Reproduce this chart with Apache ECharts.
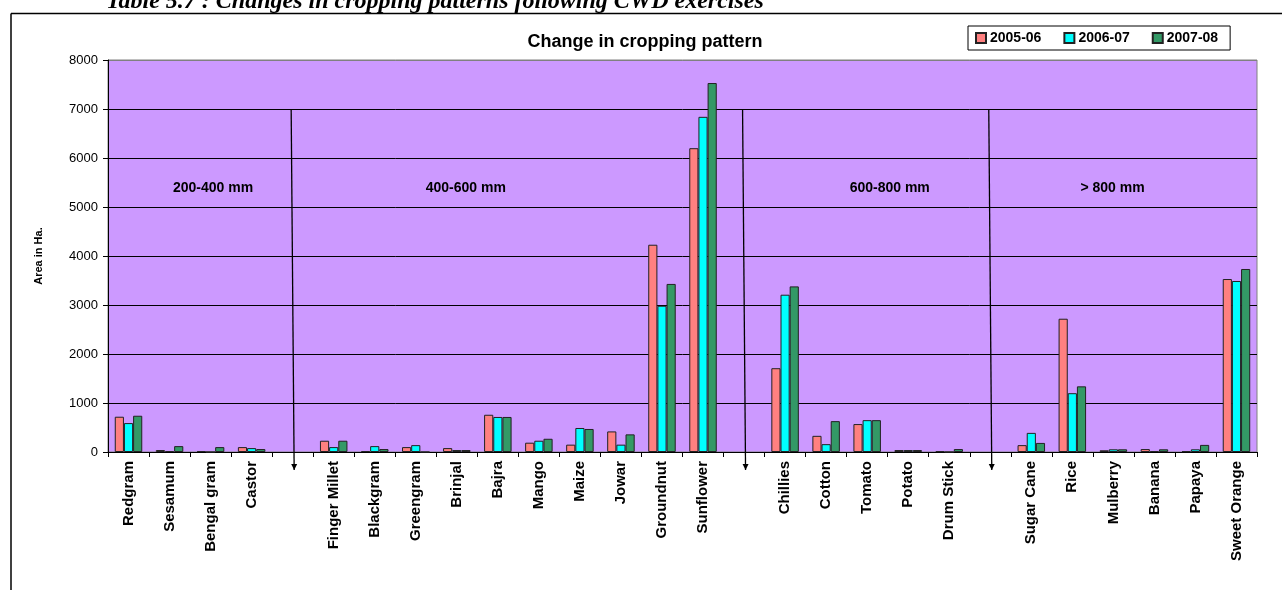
<!DOCTYPE html>
<html>
<head>
<meta charset="utf-8">
<style>
html,body{margin:0;padding:0;background:#fff;}
#chart{width:1282px;height:590px;}
</style>
<script src="https://cdn.jsdelivr.net/npm/echarts@6/dist/echarts.min.js"></script>
</head>
<body>
<div id="chart"></div>
<script>
const categories = ['Redgram','Sesamum','Bengal gram','Castor',' ','Finger Millet','Blackgram','Greengram','Brinjal','Bajra','Mango','Maize','Jowar','Groundnut','Sunflower','  ','Chillies','Cotton','Tomato','Potato','Drum Stick','   ','Sugar Cane','Rice','Mulberry','Banana','Papaya','Sweet Orange'];
const seriesNames = ['2005-06','2006-07','2007-08'];
const v2005 = [720,40,20,100,null,230,20,100,80,760,190,150,420,4230,6200,null,1710,330,570,40,15,null,140,2720,35,60,15,3530];
const v2006 = [590,20,0,80,null,100,120,140,40,715,230,490,150,2985,6840,null,3210,160,650,40,0,null,390,1200,55,20,55,3490];
const v2007 = [740,120,100,60,null,230,60,0,40,715,270,470,360,3430,7530,null,3380,630,650,40,60,null,185,1340,55,55,145,3735];
const yTicks = [0,1000,2000,3000,4000,5000,6000,7000,8000];
const regions = [
  {label:'200-400 mm', cat:2.06, value:5380},
  {label:'400-600 mm', cat:8.22, value:5380},
  {label:'600-800 mm', cat:18.55, value:5380},
  {label:'> 800 mm', cat:23.98, value:5380}
];
const arrowCats = [4,15,21];
const arrowTop = 7000;

const colors = ['#FF8080','#00FFFF','#339966'];
const chart = echarts.init(document.getElementById('chart'));
const seriesData = [v2005,v2006,v2007];
const option = {
  animation:false,
  backgroundColor:'#ffffff',
  title:{
    text:'Change in cropping pattern',
    left:640, top:28, textAlign:'center',
    textStyle:{fontFamily:'Arial, Liberation Sans',fontWeight:'bold',fontSize:18,color:'#000'}
  },
  legend:{
    data:seriesNames,
    left:968, top:26,
    padding:[5,12,5,7],
    borderColor:'#000', borderWidth:1,
    itemWidth:10, itemHeight:10, itemGap:22,
    icon:'rect',
    textStyle:{fontFamily:'Arial, Liberation Sans',fontWeight:'bold',fontSize:14,color:'#000',padding:[0,0,0,-1]}
  },
  grid:{
    left:108, right:25, top:60, bottom:138,
    show:true, backgroundColor:'#CC99FF', borderColor:'#808080', borderWidth:1,
    containLabel:false
  },
  xAxis:{
    type:'category',
    data:categories,
    axisLine:{lineStyle:{color:'#000',width:1}},
    axisTick:{show:true,interval:0,length:5,lineStyle:{color:'#000'}},
    axisLabel:{interval:0,rotate:90,margin:9,fontFamily:'Arial, Liberation Sans',fontWeight:'bold',fontSize:15,color:'#000'}
  },
  yAxis:{
    type:'value', min:0, max:8000, interval:1000,
    name:'Area in Ha.', nameLocation:'middle', nameGap:64, nameRotate:90,
    nameTextStyle:{fontFamily:'Arial, Liberation Sans',fontWeight:'bold',fontSize:11,color:'#000'},
    axisLine:{show:true,lineStyle:{color:'#000'}},
    axisTick:{show:true,length:5,inside:false,lineStyle:{color:'#000'}},
    axisLabel:{margin:10,fontFamily:'Arial, Liberation Sans',fontSize:13,color:'#000',
      formatter:function(v){return yTicks.indexOf(v)>=0?String(v):'';}},
    splitLine:{show:true,lineStyle:{color:['#000','#000','#000','#000','#000','#000','#000','#000','#808080'],width:1}}
  },
  series: seriesNames.map((n,i)=>({
    name:n, type:'bar', data:seriesData[i],
    barGap:'0%', barCategoryGap:'33%',
    itemStyle:{color:colors[i],borderColor:'#222',borderWidth:1}
  }))
};
chart.setOption(option);

function catToX(c){
  const a = chart.convertToPixel({xAxisIndex:0,yAxisIndex:0},[0,0])[0];
  const b = chart.convertToPixel({xAxisIndex:0,yAxisIndex:0},[1,0])[0];
  return a + c*(b-a);
}
function drawOverlays(){
  const g = [];
  g.push({type:'line',shape:{x1:11,y1:13.5,x2:1282,y2:13.5},style:{stroke:'#000',lineWidth:1.5},z:100});
  g.push({type:'line',shape:{x1:11,y1:13.5,x2:11,y2:590},style:{stroke:'#000',lineWidth:1.5},z:100});
  g.push({type:'text',left:106,top:-10,style:{text:'Table 5.7 : Changes in cropping patterns following CWD exercises',
    font:'italic bold 24px "Liberation Serif", "DejaVu Serif", serif',fill:'#000'},z:100});
  arrowCats.forEach(c=>{
    const top = chart.convertToPixel({xAxisIndex:0,yAxisIndex:0},[c,arrowTop]);
    const bottom = chart.convertToPixel({xAxisIndex:0,yAxisIndex:0},[c,0]);
    const x1 = top[0]-1.5, x2 = top[0]+1.5, y1 = top[1], y2 = bottom[1]+18;
    g.push({type:'line',shape:{x1:x1,y1:y1,x2:x2,y2:y2},style:{stroke:'#000',lineWidth:1.3},z:100});
    g.push({type:'polygon',shape:{points:[[x2-3,y2-6],[x2+3,y2-6],[x2,y2]]},style:{fill:'#000'},z:100});
  });
  regions.forEach(r=>{
    const y = chart.convertToPixel({xAxisIndex:0,yAxisIndex:0},[0,r.value])[1];
    g.push({type:'text',x:catToX(r.cat),y:y,style:{text:r.label,font:'bold 14px Arial, "Liberation Sans"',fill:'#000',textAlign:'center',textVerticalAlign:'middle'},z:100});
  });
  chart.setOption({graphic:g});
}
drawOverlays();
</script>
</body>
</html>
